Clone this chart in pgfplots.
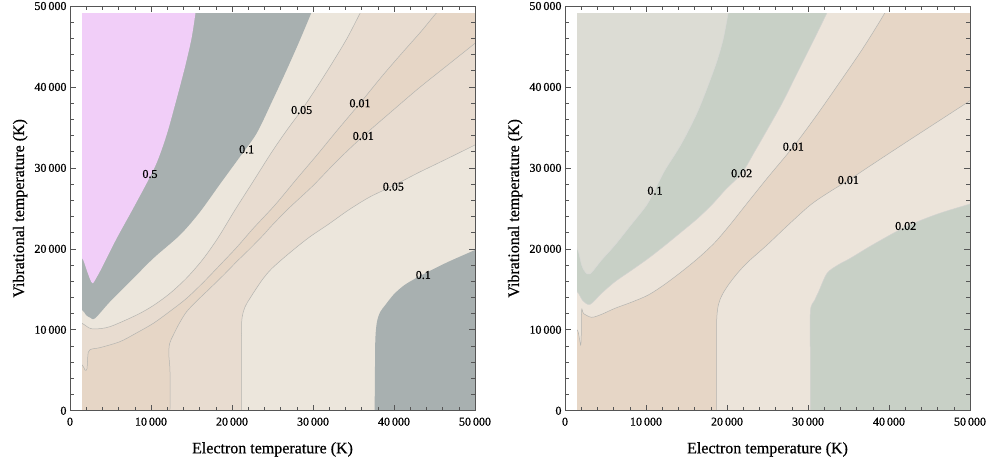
\documentclass[border=0pt]{standalone}
\usepackage{fontspec}
\setmainfont{Liberation Serif}[FakeBold=0.6]
\usepackage{pgfplots}
\usepackage{pgfplotstable}
\pgfplotsset{compat=1.18}

\definecolor{pinkc}{HTML}{F1CEF8}
\definecolor{grayc}{HTML}{A8B0B0}
\definecolor{beigec}{HTML}{ECE6DC}
\definecolor{tanc}{HTML}{E8DCD0}
\definecolor{darktan}{HTML}{E6D6C6}
\definecolor{lightgg}{HTML}{DCDCD4}
\definecolor{greengray}{HTML}{C8D0C6}
\definecolor{beigeb}{HTML}{ECE4DA}
\definecolor{tanb}{HTML}{E6D6C6}
\definecolor{cline}{HTML}{B4B4B0}
\definecolor{framec}{HTML}{555555}

% ---- left panel contours (upper side closes via top-left, lower via bottom-right)
\pgfplotstableread{
x y
-3000 55000
500 19200
1500 18830
2060 17380
2470 16270
2800 15740
3300 16500
4000 17800
5760 21300
8020 25415
10490 30150
11900 34000
13100 38300
14200 42500
15000 46000
15500 49178
15800 51000
}\LUhalf
\pgfplotstableread{
x y
-3000 55000
500 12550
1500 12440
2000 11800
2500 11500
3090 11415
4940 13470
7410 15940
10290 18830
13580 21710
16000 24500
18520 28000
20990 31390
23040 34270
24940 38200
26700 42000
28300 45600
29800 49178
30500 51000
}\LUten
\pgfplotstableread{
x y
-3000 55000
500 10900
1500 10795
2300 10250
3090 10095
4940 10385
8230 11825
10300 13000
12345 14500
14400 16400
16400 18700
18300 21400
20370 24800
22600 28300
24940 32000
26800 34700
28600 37150
30500 40000
32400 43000
34200 46000
35845 49178
36800 51000
}\LUfive
\pgfplotstableread{
x y
-3000 55000
500 5850
1500 5650
1850 5030
2100 5200
2250 7200
2700 7620
3700 7790
6170 8530
8200 9600
10290 10795
12300 12250
14400 13885
16500 15900
18520 18000
20600 20200
22630 22530
25310 25415
28000 28650
30500 31600
33000 34650
35800 37980
38500 41300
41000 44200
43300 46800
45270 49178
47000 51000
}\LUone
\pgfplotstableread{
x y
55000 -5000
12345 -1000
12345 0
12345 4825
12200 7000
12300 8300
12760 9355
13500 10800
14400 12240
15800 13700
17280 15120
19000 16800
20575 18415
22200 20000
23870 21710
24940 22900
27000 25000
30000 27800
33000 30900
36210 33940
39500 36800
43000 39800
46500 42600
50000 45390
52000 47000
}\LLone
\pgfplotstableread{
x y
55000 -5000
21190 -1000
21190 0
21190 6000
21200 11000
21600 12800
22220 13885
23000 15100
23870 16355
24940 17590
27000 19400
29500 21400
32000 23100
34400 24800
37000 26400
39920 27800
43000 29400
46500 31100
50000 32830
52000 33800
}\LLfive
\pgfplotstableread{
x y
55000 -5000
37610 -1000
37610 0
37650 5000
37700 8940
37900 11000
38300 12200
38930 13060
40000 14400
41400 15600
43460 16770
46500 18300
50000 19856
52000 20800
}\LLten

% ---- right panel contours
\pgfplotstableread{
x y
-3000 55000
500 20300
1500 20060
2060 18000
2470 17180
3090 16900
4500 18600
6170 20470
8100 22900
10080 25415
11300 27700
12345 29740
14400 33040
16460 37150
18520 42510
19500 45800
20160 49178
20600 51000
}\RUten
\pgfplotstableread{
x y
-3000 55000
500 14800
1500 14710
2200 13600
3090 13140
4500 14500
6170 15945
8200 17350
10290 18830
12300 20400
14400 22120
16300 23700
18100 25415
19800 27300
21810 29330
23400 32000
24940 34683
26800 38000
28700 41800
30500 45400
32350 49178
33200 51000
}\RUtwo
\pgfplotstableread{
x y
-3000 55000
500 10000
1500 9970
1800 8800
1934 8117
2000 9000
2058 12440
2300 12000
3290 11540
4500 11900
6170 12650
8200 13400
10290 14300
12300 15600
14400 17180
16500 18900
18520 20800
20400 23000
22220 25300
24940 28700
28190 32620
31000 36400
34000 40700
36800 44800
39500 49178
40300 51000
}\RUone
\pgfplotstableread{
x y
55000 -5000
18720 -1000
18720 0
18720 6000
18720 11000
18930 13060
19400 14300
20160 15530
21300 17000
22630 18415
24940 20470
27500 22900
30290 25415
32600 27000
35020 28500
38500 30800
42000 33100
46000 35700
50000 38300
52000 39600
}\RLone
\pgfplotstableread{
x y
55000 -5000
30290 -1000
30290 0
30290 6000
30290 12240
30800 13600
31320 14710
32350 16970
33700 18000
35230 18830
38000 20500
42020 22700
46000 24300
50000 25540
52000 26200
}\RLtwo

\pgfplotsset{
  panel/.style={
    anchor=south west, width=405pt, height=404.7pt, scale only axis,
    xmin=0, xmax=50000, ymin=0, ymax=50000,
    xtick={0,10000,...,50000}, ytick={0,10000,...,50000},
    minor tick num=4, tick align=inside, tick pos=both,
    xticklabel pos=bottom, yticklabel pos=left,
    major tick length=5.7pt, minor tick length=3.7pt,
    axis line style={framec, line width=0.6pt},
    every tick/.style={framec, line width=0.6pt},
    scaled ticks=false,
    tick label style={font=\fontsize{12}{12}\selectfont, black},
    xticklabel style={yshift=-3.4pt},
    /pgf/number format/.cd, 1000 sep={\,}, assume math mode=true, /pgfplots/.cd,
    label style={font=\fontsize{16}{16}\selectfont},
    xlabel={Electron temperature (K)},
    ylabel={Vibrational temperature (K)},
    xlabel style={at={(axis description cs:0.5,-0.1053)}, anchor=base},
    ylabel style={at={(axis description cs:-0.1136,0.5)}, anchor=base},
    axis on top,
  },
  region/.style={draw=none, fill=#1, smooth, tension=0.5},
  cont/.style={draw=#1, line width=0.5pt, smooth, tension=0.5},
}
\tikzset{clab/.style={font=\fontsize{12}{12}\selectfont, inner sep=0pt}}

\begin{document}
\begin{tikzpicture}
\path[use as bounding box] (0,0) rectangle (990pt,461pt);

\begin{axis}[panel, at={(70pt,50.3pt)}]
  \addplot[draw=none, fill=darktan] coordinates {(-1000,-1000) (51000,-1000) (51000,51000) (-1000,51000)};
  \addplot[region=tanc] table {\LUone};
  \addplot[region=beigec] table {\LUfive};
  \addplot[region=grayc] table {\LUten};
  \addplot[region=pinkc] table {\LUhalf};
  \addplot[region=tanc] table {\LLone};
  \addplot[region=beigec] table {\LLfive};
  \addplot[region=grayc] table {\LLten};
  \addplot[cont=cline] table {\LUone};
  \addplot[cont=cline] table {\LUfive};
  \addplot[cont=cline] table {\LLone};
  \addplot[cont=cline] table {\LLfive};
  % white margins of the sampled domain
  \addplot[draw=none, fill=white] coordinates {(-1000,-1000) (1500,-1000) (1500,51000) (-1000,51000)};
  \addplot[draw=none, fill=white] coordinates {(-1000,49178) (51000,49178) (51000,51000) (-1000,51000)};
  \node[clab] at (axis cs:9877,29245) {0.5};
  \node[clab] at (axis cs:21810,32290) {0.1};
  \node[clab] at (axis cs:28600,37150) {0.05};
  \node[clab] at (axis cs:35800,37980) {0.01};
  \node[clab] at (axis cs:36210,33940) {0.01};
  \node[clab] at (axis cs:39920,27680) {0.05};
  \node[clab] at (axis cs:43620,16770) {0.1};
\end{axis}

\begin{axis}[panel, at={(565pt,50.3pt)}]
  \addplot[draw=none, fill=tanb] coordinates {(-1000,-1000) (51000,-1000) (51000,51000) (-1000,51000)};
  \addplot[region=beigeb] table {\RUone};
  \addplot[region=greengray] table {\RUtwo};
  \addplot[region=lightgg] table {\RUten};
  \addplot[region=beigeb] table {\RLone};
  \addplot[region=greengray] table {\RLtwo};
  \addplot[cont=cline] table {\RUone};
  \addplot[cont=cline!60] table {\RUtwo};
  \addplot[cont=cline!50] table {\RUten};
  \addplot[cont=cline] table {\RLone};
  \addplot[cont=cline!60] table {\RLtwo};
  \addplot[draw=none, fill=white] coordinates {(-1000,-1000) (1500,-1000) (1500,51000) (-1000,51000)};
  \addplot[draw=none, fill=white] coordinates {(-1000,49178) (51000,49178) (51000,51000) (-1000,51000)};
  \node[clab] at (axis cs:11110,27180) {0.1};
  \node[clab] at (axis cs:21810,29330) {0.02};
  \node[clab] at (axis cs:28190,32620) {0.01};
  \node[clab] at (axis cs:34980,28500) {0.01};
  \node[clab] at (axis cs:42060,22820) {0.02};
\end{axis}
\end{tikzpicture}
\end{document}
